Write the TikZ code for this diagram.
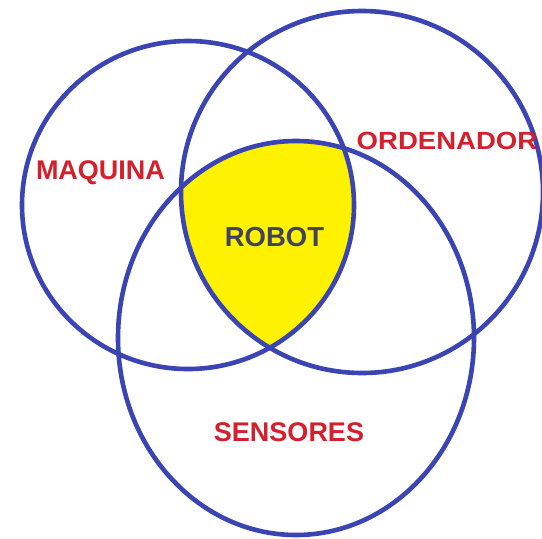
\documentclass[tikz,border=0pt]{standalone}
\usepackage{fontspec}
\setmainfont{Liberation Sans}
\definecolor{ringblue}{RGB}{58,68,178}
\definecolor{labelred}{RGB}{212,32,44}
\definecolor{robotgray}{RGB}{66,66,96}
\definecolor{robotyellow}{RGB}{255,242,0}
\begin{document}
\begin{tikzpicture}[x=1pt,y=-1pt,
  ring/.style={draw=ringblue,line width=4.6pt},
  setlabel/.style={font=\fontsize{27}{27}\selectfont\bfseries,text=labelred,inner sep=0pt},
  centerlabel/.style={font=\fontsize{27.5}{27.5}\selectfont\bfseries,text=robotgray,inner sep=0pt}]
\useasboundingbox[fill=white] (0,0) rectangle (542,539);
% yellow intersection
\begin{scope}
  \clip (188,205) ellipse [x radius=166,y radius=164];
  \clip (362,192) circle [radius=181];
  \fill[robotyellow] (296,338) ellipse [x radius=178,y radius=197];
\end{scope}
\draw[ring] (188,205) ellipse [x radius=166,y radius=164];
\draw[ring] (362,192) circle [radius=181];
\draw[ring] (296,338) ellipse [x radius=178,y radius=197];
\node[setlabel] (maquina) at (100.5,173) {MAQUINA};
\node[setlabel,xscale=1.02,yscale=0.92] (ordenador) at (447,140.5) {ORDENADOR};
\node[setlabel] (sensores) at (289,432) {SENSORES};
\node[centerlabel] (robot) at (274.5,237.5) {ROBOT};
\end{tikzpicture}
\end{document}
